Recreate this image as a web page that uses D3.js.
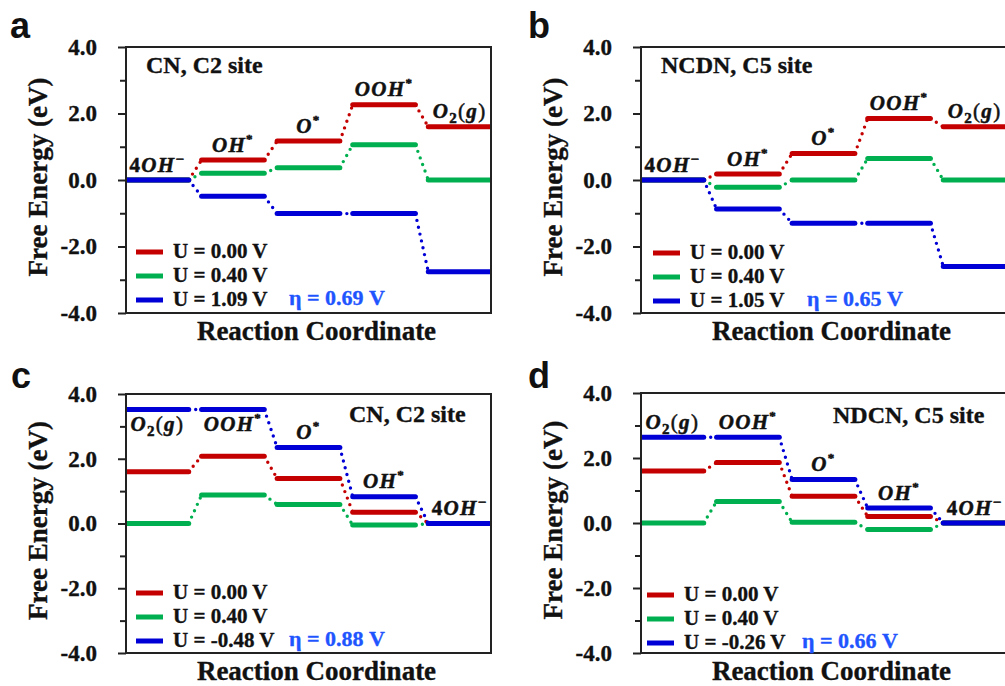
<!DOCTYPE html>
<html>
<head>
<meta charset="utf-8">
<script src="https://cdn.jsdelivr.net/npm/d3@7"></script>
<style>
  html, body { margin: 0; padding: 0; background: #fff; }
  svg { display: block; }
  .serif { font-family: "Liberation Serif", "Times New Roman", Times, "DejaVu Serif", serif; }
  .sans { font-family: "Liberation Sans", Arial, Helvetica, sans-serif; }
</style>
</head>
<body>
<svg id="fig" width="1005" height="686"></svg>
<script>
// ---- data -------------------------------------------------------------
// Reaction steps, left to right, for the OER (a, b) and ORR (c, d) panels
const oerStates = ["4OH-", "OH*", "O*", "OOH*", "O2(g)"];
const orrStates = ["O2(g)", "OOH*", "O*", "OH*", "4OH-"];

// Free energies (eV) at each step, one array per applied potential
const aRed   = [0.00, 0.60, 1.17, 2.26, 1.60];
const aGreen = [0.00, 0.20, 0.37, 1.06, 0.00];
const aBlue  = [0.00, -0.49, -1.01, -1.01, -2.76];

const bRed   = [0.00, 0.18, 0.80, 1.85, 1.60];
const bGreen = [0.00, -0.22, 0.00, 0.65, 0.00];
const bBlue  = [0.00, -0.87, -1.30, -1.30, -2.60];

const cRed   = [1.60, 2.08, 1.39, 0.35, 0.00];
const cGreen = [0.00, 0.88, 0.59, -0.05, 0.00];
const cBlue  = [3.52, 3.52, 2.35, 0.83, 0.00];

const dRed   = [1.60, 1.86, 0.82, 0.20, 0.00];
const dGreen = [0.00, 0.66, 0.02, -0.20, 0.00];
const dBlue  = [2.64, 2.64, 1.34, 0.46, 0.00];

// Legend entries and overpotentials
const legendA = ["U = 0.00 V", "U = 0.40 V", "U = 1.09 V"];
const legendB = ["U = 0.00 V", "U = 0.40 V", "U = 1.05 V"];
const legendC = ["U = 0.00 V", "U = 0.40 V", "U = -0.48 V"];
const legendD = ["U = 0.00 V", "U = 0.40 V", "U = -0.26 V"];
const etaLabels = ["η = 0.69 V", "η = 0.65 V", "η = 0.88 V", "η = 0.66 V"];
const siteTitles = ["CN, C2 site", "NCDN, C5 site", "CN, C2 site", "NDCN, C5 site"];

// Axis ticks
const majorTicks = [-4, -2, 0, 2, 4];
const minorTicks = [-3, -1, 1, 3];

// ---- styles -----------------------------------------------------------
const seriesColors = ["#c40000", "#00b050", "#0000d6"];
const etaColor = "#1f55ff";
const frameColor = "#222";

// Rich-text pieces for each species label
const labelParts = {
  "4OH-": [["4", "n"], ["OH", "i"], ["\u2212", "sup"]],
  "OH*": [["OH", "i"], ["*", "sup"]],
  "O*": [["O", "i"], ["*", "sup"]],
  "OOH*": [["OOH", "i"], ["*", "sup"]],
  "O2(g)": [["O", "i"], ["2", "sub"], ["(", "p"], ["g", "i"], [")", "p"]]
};

const panels = [
  { letter: "a", x: 126, y: 47, w: 365, h: 266, states: oerStates,
    series: [aRed, aGreen, aBlue], legend: legendA, eta: etaLabels[0], title: siteTitles[0],
    titleAt: [20, 26], legendX: 10, legendY: -61, etaX: 163, letterAt: [10, 38], below: [] },
  { letter: "b", x: 641, y: 47, w: 365, h: 266, states: oerStates,
    series: [bRed, bGreen, bBlue], legend: legendB, eta: etaLabels[1], title: siteTitles[1],
    titleAt: [20, 26], legendX: 12, legendY: -60, etaX: 166, letterAt: [528, 38], below: [] },
  { letter: "c", x: 126, y: 394, w: 365, h: 259, states: orrStates,
    series: [cRed, cGreen, cBlue], legend: legendC, eta: etaLabels[2], title: siteTitles[2],
    titleAt: [223, 28], legendX: 10, legendY: -60, etaX: 163, letterAt: [11, 388], below: [0, 1] },
  { letter: "d", x: 641, y: 393, w: 365, h: 260, states: orrStates,
    series: [dRed, dGreen, dBlue], legend: legendD, eta: etaLabels[3], title: siteTitles[3],
    titleAt: [192, 30], legendX: 6, legendY: -58, etaX: 161, letterAt: [528, 388], below: [] }
];

const svg = d3.select("#fig");
const segW = 0.83;                 // width of a level in step units
const xMax = 4 + segW;

function serifText(sel, size, color) {
  const c = color || "#111";
  return sel.attr("class", "serif")
    .style("font-weight", "bold")
    .style("font-size", size + "px")
    .attr("fill", c)
    .attr("stroke", c)
    .attr("stroke-width", 0.35);
}

function speciesLabel(g, name, x, y) {
  const t = serifText(g.append("text"), 20)
    .attr("x", x).attr("y", y)
    .attr("text-anchor", "middle")
    .attr("letter-spacing", 1.3)
    .attr("stroke-width", 0.5);
  let shift = 0;
  labelParts[name].forEach(([txt, kind]) => {
    let target = 0, size = 21, style = "normal", weight = "bold";
    if (kind === "i") style = "italic";
    if (kind === "sup") { target = txt === "*" ? -9 : -8; size = txt === "*" ? 13 : 15; }
    if (kind === "sub") { target = 5; size = 15; }
    if (kind === "p") { weight = "normal"; }
    t.append("tspan")
      .attr("dy", target - shift)
      .style("font-size", size + "px")
      .style("font-style", style)
      .style("font-weight", weight)
      .text(txt);
    shift = target;
  });
}

panels.forEach((p) => {
  const g = svg.append("g");
  const x = d3.scaleLinear().domain([0, xMax]).range([p.x, p.x + p.w]);
  const y = d3.scaleLinear().domain([-4, 4]).range([p.y + p.h, p.y]);

  const clipId = "clip-" + p.letter;
  svg.append("clipPath").attr("id", clipId)
    .append("rect").attr("x", p.x).attr("y", p.y).attr("width", p.w).attr("height", p.h);

  const plot = g.append("g").attr("clip-path", `url(#${clipId})`);

  // energy levels and dotted connectors, one series at a time
  p.series.forEach((vals, si) => {
    const s = plot.append("g");
    vals.forEach((v, i) => {
      if (i < vals.length - 1) {
        s.append("line")
          .attr("x1", x(i + segW)).attr("y1", y(v))
          .attr("x2", x(i + 1)).attr("y2", y(vals[i + 1]))
          .attr("stroke", seriesColors[si])
          .attr("stroke-width", 3.4)
          .attr("stroke-linecap", "round")
          .attr("stroke-dasharray", "0 7");
      }
    });
    s.selectAll("line.level").data(vals).enter().append("line")
      .attr("class", "level")
      .attr("x1", (d, i) => x(i)).attr("x2", (d, i) => x(i + segW))
      .attr("y1", d => y(d)).attr("y2", d => y(d))
      .attr("stroke", seriesColors[si])
      .attr("stroke-width", 5)
      .attr("stroke-linecap", "round");
  });

  // frame
  g.append("rect")
    .attr("x", p.x).attr("y", p.y).attr("width", p.w).attr("height", p.h)
    .attr("fill", "none").attr("stroke", frameColor).attr("stroke-width", 2);

  // left axis: labelled major ticks and unlabelled minor ticks
  const axis = d3.axisLeft(y).tickValues(majorTicks).tickSize(8).tickPadding(21)
    .tickFormat(d => d.toFixed(1));
  const ax = g.append("g").attr("transform", `translate(${p.x},0)`).call(axis);
  ax.attr("font-family", null).attr("font-size", null);
  ax.select(".domain").remove();
  ax.selectAll(".tick line").attr("stroke", frameColor).attr("stroke-width", 2);
  serifText(ax.selectAll(".tick text"), 23);
  const minor = d3.axisLeft(y).tickValues(minorTicks).tickSize(6).tickFormat("");
  const mx = g.append("g").attr("transform", `translate(${p.x},0)`).call(minor);
  mx.select(".domain").remove();
  mx.selectAll(".tick line").attr("stroke", frameColor).attr("stroke-width", 2);

  // axis titles
  serifText(g.append("text"), 27)
    .attr("transform", `translate(${p.x - 79},${p.y + p.h / 2 - 3}) rotate(-90)`)
    .attr("text-anchor", "middle")
    .text("Free Energy (eV)");
  serifText(g.append("text"), 27)
    .attr("x", p.x + p.w / 2 + 8).attr("y", p.y + p.h + 27)
    .attr("text-anchor", "middle")
    .text("Reaction Coordinate");

  // site title
  serifText(g.append("text"), 24)
    .attr("x", p.x + p.titleAt[0]).attr("y", p.y + p.titleAt[1])
    .text(p.title);

  // species labels
  p.states.forEach((name, i) => {
    const cx = x(i + segW / 2);
    const ly = p.below.includes(i)
      ? y(p.series[2][i]) + 21
      : y(d3.max(p.series, s => s[i])) - 8.5;
    speciesLabel(g, name, cx, ly);
  });

  // legend
  const baseY = p.y + p.h + p.legendY;
  p.legend.forEach((txt, li) => {
    const ry = baseY + li * 24;
    g.append("line")
      .attr("x1", p.x + p.legendX).attr("x2", p.x + p.legendX + 27)
      .attr("y1", ry).attr("y2", ry)
      .attr("stroke", seriesColors[li]).attr("stroke-width", 5);
    serifText(g.append("text"), 21)
      .attr("x", p.x + p.legendX + 37).attr("y", ry + 6)
      .text(txt);
  });
  serifText(g.append("text"), 22, etaColor)
    .attr("x", p.x + p.etaX).attr("y", baseY + 2 * 24 + 5)
    .text(p.eta);

  // panel letter
  svg.append("text")
    .attr("class", "sans")
    .attr("x", p.letterAt[0]).attr("y", p.letterAt[1])
    .style("font-weight", "bold").style("font-size", "36px")
    .attr("fill", "#111")
    .text(p.letter);
});
</script>
</body>
</html>
